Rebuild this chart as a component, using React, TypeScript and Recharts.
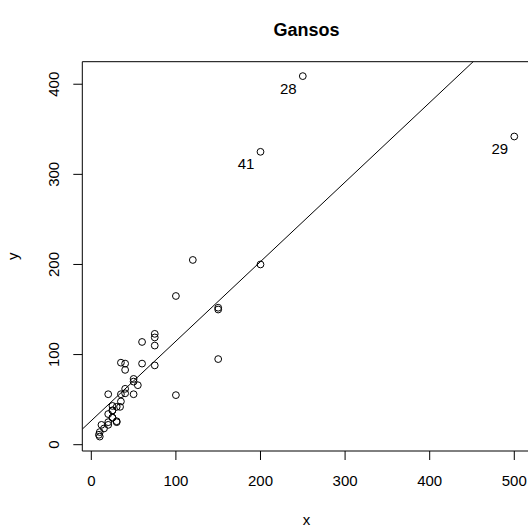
import React from "react";
import { ScatterChart, Scatter, XAxis, YAxis, ReferenceLine } from "recharts";

// Snow geese flocks: observer count (x) vs. photo count (y)
const observerCount = [
  50, 25, 30, 35, 25, 20, 12, 34, 20, 10, 25, 10, 15, 20, 40, 30, 75, 35, 9, 55,
  30, 25, 40, 75, 100, 150, 120, 250, 500, 200, 50, 75, 150, 50, 60, 75, 150, 40,
  25, 100, 200, 60, 40, 35, 20,
];
const photoCount = [
  56, 38, 25, 48, 38, 22, 22, 42, 34, 14, 30, 9, 18, 25, 62, 26, 88, 56, 11, 66,
  42, 30, 90, 119, 165, 152, 205, 409, 342, 200, 73, 123, 150, 70, 90, 110, 95, 57,
  43, 55, 325, 114, 83, 91, 56,
];
// Flocks flagged as outliers (1-based row numbers)
const flagged = [28, 29, 41];

const xTicks = [0, 100, 200, 300, 400, 500];
const yTicks = [0, 100, 200, 300, 400];

const FONT = "'Liberation Sans', Arial, Helvetica, sans-serif";

type Pt = { x: number; y: number; id?: string };

const points: Pt[] = observerCount.map((x, i) => ({
  x,
  y: photoCount[i],
  id: flagged.includes(i + 1) ? String(i + 1) : undefined,
}));

// Base-graphics style padded range (4% each side)
function paddedRange(v: number[]): [number, number] {
  const lo = Math.min(...v);
  const hi = Math.max(...v);
  const pad = (hi - lo) * 0.04;
  return [lo - pad, hi + pad];
}
const xDomain = paddedRange(observerCount);
const yDomain = paddedRange(photoCount);

// Least-squares fit y ~ x
function leastSquares(xs: number[], ys: number[]) {
  const n = xs.length;
  const mx = xs.reduce((a, b) => a + b, 0) / n;
  const my = ys.reduce((a, b) => a + b, 0) / n;
  let sxy = 0;
  let sxx = 0;
  for (let i = 0; i < n; i++) {
    sxy += (xs[i] - mx) * (ys[i] - my);
    sxx += (xs[i] - mx) * (xs[i] - mx);
  }
  const slope = sxy / sxx;
  return { slope, intercept: my - slope * mx };
}
const fit = leastSquares(observerCount, photoCount);
const fitSegment = [
  { x: xDomain[0], y: fit.intercept + fit.slope * xDomain[0] },
  { x: xDomain[1], y: fit.intercept + fit.slope * xDomain[1] },
];

const PointShape = (props: any) => {
  const { cx, cy, payload } = props;
  return (
    <g>
      <circle cx={cx} cy={cy} r={3.4} fill="none" stroke="#000" strokeWidth={1} />
      {payload && payload.id ? (
        <text
          x={cx - 14.5}
          y={cy + 17.4}
          textAnchor="middle"
          fontSize={15}
          fontFamily={FONT}
          fill="#000"
        >
          {payload.id}
        </text>
      ) : null}
    </g>
  );
};

const YTick = (props: any) => {
  const { x, y, payload } = props;
  return (
    <text
      x={x}
      y={y}
      transform={`rotate(-90 ${x} ${y})`}
      textAnchor="middle"
      fontSize={15}
      fontFamily={FONT}
      fill="#000"
    >
      {payload.value}
    </text>
  );
};

export default function App() {
  return (
    <div
      style={{
        position: "absolute",
        left: 0,
        top: 0,
        width: 528,
        height: 528,
        overflow: "hidden",
        background: "#fff",
      }}
    >
      <ScatterChart
        width={540}
        height={528}
        margin={{ top: 61.7, right: 9.1, left: 0, bottom: 0 }}
      >
        <XAxis
          type="number"
          dataKey="x"
          domain={xDomain}
          allowDataOverflow
          ticks={xTicks}
          interval={0}
          height={77}
          tickSize={9}
          tickMargin={15.4}
          stroke="#000"
          axisLine={{ stroke: "#000", strokeWidth: 1 }}
          tickLine={{ stroke: "#000", strokeWidth: 1 }}
          tick={{ fill: "#000", fontSize: 15, fontFamily: FONT }}
        />
        <YAxis
          type="number"
          dataKey="y"
          domain={yDomain}
          allowDataOverflow
          ticks={yTicks}
          interval={0}
          width={82.3}
          tickSize={9}
          tickMargin={13.8}
          stroke="#000"
          axisLine={{ stroke: "#000", strokeWidth: 1 }}
          tickLine={{ stroke: "#000", strokeWidth: 1 }}
          tick={<YTick />}
        />
        <ReferenceLine y={yDomain[1]} stroke="#000" strokeWidth={1} />
        <ReferenceLine
          segment={fitSegment}
          stroke="#000"
          strokeWidth={1}
          ifOverflow="hidden"
        />
        <Scatter
          data={points}
          shape={<PointShape />}
          isAnimationActive={false}
        />
      </ScatterChart>
      <svg
        width={528}
        height={528}
        style={{ position: "absolute", left: 0, top: 0, pointerEvents: "none" }}
      >
        <text
          x={306.5}
          y={36}
          textAnchor="middle"
          fontSize={18}
          fontWeight="bold"
          fontFamily={FONT}
          fill="#000"
        >
          Gansos
        </text>
        <text
          x={306.5}
          y={524.5}
          textAnchor="middle"
          fontSize={15}
          fontFamily={FONT}
          fill="#000"
        >
          x
        </text>
        <text
          x={18.5}
          y={256.3}
          transform="rotate(-90 18.5 256.3)"
          textAnchor="middle"
          fontSize={15}
          fontFamily={FONT}
          fill="#000"
        >
          y
        </text>
      </svg>
    </div>
  );
}
